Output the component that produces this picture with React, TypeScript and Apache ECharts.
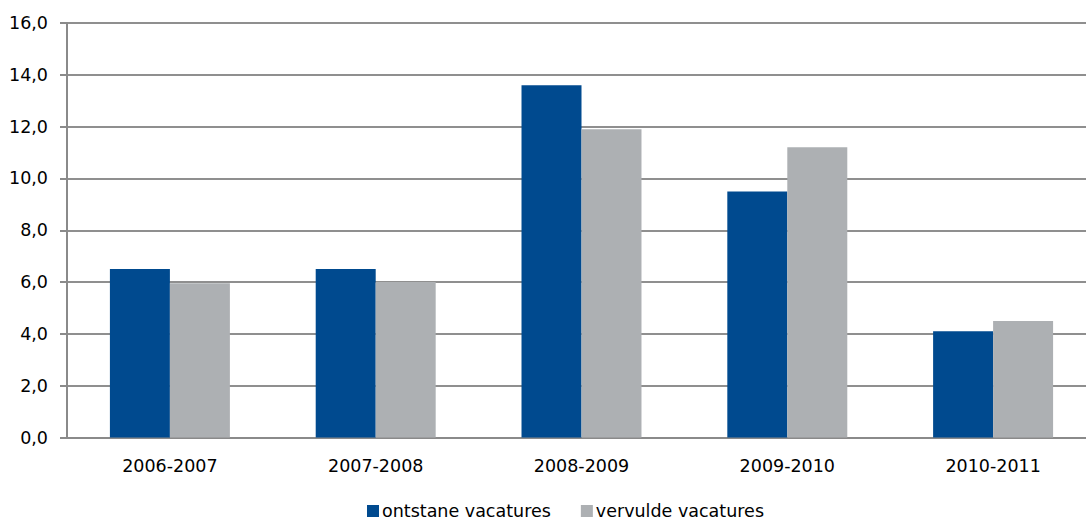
import React, { useEffect, useRef } from "react";
import * as echarts from "echarts";

const categories = ["2006-2007", "2007-2008", "2008-2009", "2009-2010", "2010-2011"];
const ontstane = [6.5, 6.5, 13.6, 9.5, 4.1];
const vervulde = [5.95, 6.0, 11.9, 11.2, 4.5];
const seriesNames = ["ontstane vacatures", "vervulde vacatures"];

const FONT = "DejaVu Sans";

export default function App() {
  const ref = useRef<HTMLDivElement>(null);
  useEffect(() => {
    if (!ref.current) return;
    const chart = echarts.init(ref.current, null, { renderer: "svg" });
    chart.setOption({
      animation: false,
      textStyle: { fontFamily: FONT },
      grid: { left: 67, right: 0, top: 23, bottom: 82.5, containLabel: false },
      legend: {
        left: 362,
        top: 497,
        itemWidth: 12,
        itemHeight: 12,
        itemGap: 30,
        icon: "rect",
        textStyle: { fontFamily: FONT, fontSize: 17.5, color: "#000", padding: [0, 0, 0, -2] },
        data: seriesNames,
      },
      xAxis: {
        type: "category",
        data: categories,
        axisLine: { lineStyle: { color: "#8a8a8a", width: 2 } },
        axisTick: { show: false },
        axisLabel: { fontFamily: FONT, fontSize: 17.5, color: "#000", margin: 19 },
      },
      yAxis: {
        type: "value",
        min: 0,
        max: 16,
        interval: 2,
        axisLine: { show: true, lineStyle: { color: "#8a8a8a", width: 2 } },
        axisTick: { show: true, length: 7, lineStyle: { color: "#8a8a8a", width: 2 } },
        splitLine: { lineStyle: { color: "#8f8f8f", width: 2 } },
        axisLabel: {
          fontFamily: FONT,
          fontSize: 17.5,
          color: "#000",
          margin: 19,
          formatter: (v: number) => v.toFixed(1).replace(".", ","),
        },
      },
      series: [
        {
          name: seriesNames[0],
          type: "bar",
          data: ontstane,
          barGap: "0%",
          barCategoryGap: "41.7%",
          itemStyle: { color: "#004A8F" },
        },
        {
          name: seriesNames[1],
          type: "bar",
          data: vervulde,
          barGap: "0%",
          barCategoryGap: "41.7%",
          itemStyle: { color: "#ADB0B3" },
        },
      ],
    });
    return () => chart.dispose();
  }, []);
  return (
    <div style={{ position: "fixed", left: 0, top: 0, width: 1086, height: 520, overflow: "hidden", background: "#fff" }}>
      <div ref={ref} style={{ position: "absolute", left: 0, top: 0, width: 1096, height: 520 }} />
    </div>
  );
}
